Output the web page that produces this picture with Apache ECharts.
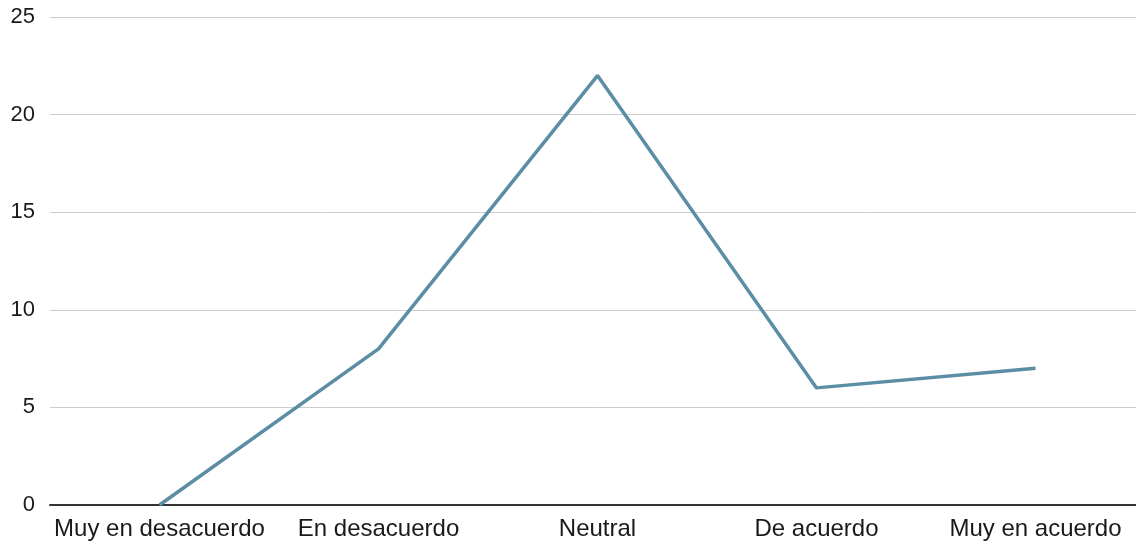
<!DOCTYPE html>
<html>
<head>
<meta charset="utf-8">
<style>
  html, body { margin: 0; padding: 0; background: #fff; overflow: hidden; }
  #chart { width: 1145px; height: 544px; }
</style>
<script src="https://cdn.jsdelivr.net/npm/echarts@6/dist/echarts.min.js"></script>
</head>
<body>
<div id="chart"></div>
<script>
var categories = ['Muy en desacuerdo', 'En desacuerdo', 'Neutral', 'De acuerdo', 'Muy en acuerdo'];
var counts = [0, 8, 22, 6, 7];

var chart = echarts.init(document.getElementById('chart'));
chart.setOption({
    animation: false,
    grid: {
        left: 50,
        right: 0,
        top: 17,
        bottom: 39
    },
    xAxis: {
        type: 'category',
        data: categories,
        boundaryGap: true,
        axisTick: { show: false },
        axisLine: { lineStyle: { color: '#333', width: 2 } },
        axisLabel: {
            color: '#1a1a1a',
            fontSize: 24,
            fontFamily: 'Liberation Sans',
            margin: 12,
            interval: 0
        }
    },
    yAxis: {
        type: 'value',
        min: 0,
        max: 25,
        interval: 5,
        axisLine: { show: false },
        axisTick: { show: false },
        splitLine: { lineStyle: { color: '#ccc', width: 1 } },
        axisLabel: {
            color: '#1a1a1a',
            fontSize: 22,
            fontFamily: 'Liberation Sans',
            margin: 15
        }
    },
    series: [{
        type: 'line',
        data: counts,
        symbol: 'none',
        lineStyle: { color: '#5b8ea4', width: 3.5 }
    }]
});
</script>
</body>
</html>
